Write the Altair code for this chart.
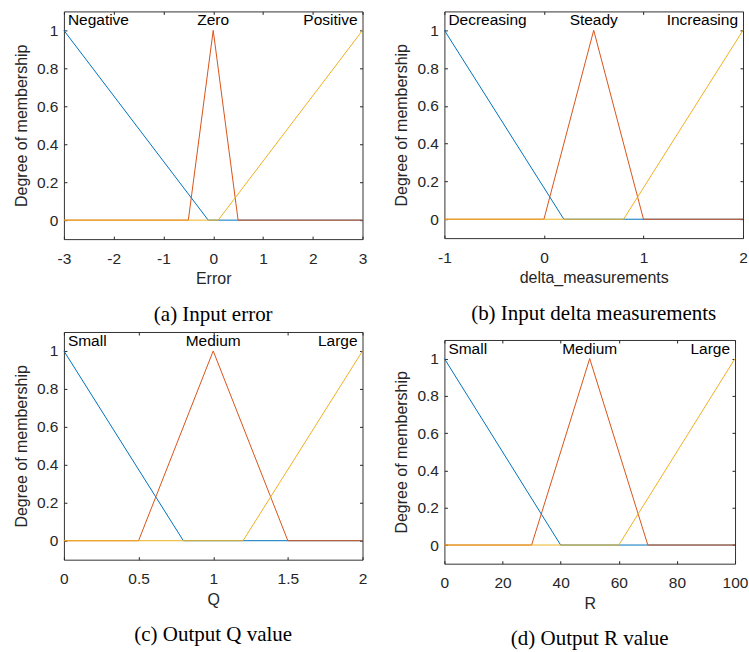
import altair as alt
import pandas as pd

# MATLAB default line colours
COLORS = ["#0072BD", "#D95319", "#EDB120"]
Y_TICKS = [0, 0.2, 0.4, 0.6, 0.8, 1]
Y_DOMAIN = [-0.1, 1.1]
Y_TITLE = "Degree of membership"

# (a) Input error
A_XLABEL = "Error"
A_CAPTION = "(a) Input error"
A_DOMAIN = [-3, 3]
A_TICKS = [-3, -2, -1, 0, 1, 2, 3]
A_NAMES = ["Negative", "Zero", "Positive"]
A_NAME_X = [-3, 0, 3]
A_MF_X = [[-3, -0.1, 3], [-3, -0.5, 0, 0.5, 3], [-3, 0.1, 3]]
A_MF_Y = [[1, 0, 0], [0, 0, 1, 0, 0], [0, 0, 1]]

# (b) Input delta measurements
B_XLABEL = "delta_measurements"
B_CAPTION = "(b) Input delta measurements"
B_DOMAIN = [-1, 2]
B_TICKS = [-1, 0, 1, 2]
B_NAMES = ["Decreasing", "Steady", "Increasing"]
B_NAME_X = [-1, 0.5, 2]
B_MF_X = [[-1, 0.2, 2], [-1, 0, 0.5, 1, 2], [-1, 0.8, 2]]
B_MF_Y = [[1, 0, 0], [0, 0, 1, 0, 0], [0, 0, 1]]

# (c) Output Q value
C_XLABEL = "Q"
C_CAPTION = "(c) Output Q value"
C_DOMAIN = [0, 2]
C_TICKS = [0, 0.5, 1, 1.5, 2]
C_NAMES = ["Small", "Medium", "Large"]
C_NAME_X = [0, 1, 2]
C_MF_X = [[0, 0.8, 2], [0, 0.5, 1, 1.5, 2], [0, 1.2, 2]]
C_MF_Y = [[1, 0, 0], [0, 0, 1, 0, 0], [0, 0, 1]]

# (d) Output R value
D_XLABEL = "R"
D_CAPTION = "(d) Output R value"
D_DOMAIN = [0, 100]
D_TICKS = [0, 20, 40, 60, 80, 100]
D_NAMES = ["Small", "Medium", "Large"]
D_NAME_X = [0, 50, 100]
D_MF_X = [[0, 40, 100], [0, 30, 50, 70, 100], [0, 60, 100]]
D_MF_Y = [[1, 0, 0], [0, 0, 1, 0, 0], [0, 0, 1]]

SANS = "Liberation Sans"
SERIF = "Liberation Serif"
INK = "#262626"

axis_style = dict(
    labelFont=SANS, labelFontSize=15.5, labelColor=INK, labelFlush=False,
    titleFont=SANS, titleFontSize=16, titleFontWeight="normal", titleColor=INK,
    tickColor=INK, tickWidth=1, tickSize=3, offset=-3, domain=False, grid=False,
    labelExpr="'' + datum.value",
)


def panel(xlabel, caption, domain, ticks, names, name_x, mfx, mfy, w, h):
    xs = alt.Scale(domain=domain, nice=False, zero=False)
    ys = alt.Scale(domain=Y_DOMAIN, nice=False, zero=False)
    layers = []
    for i in range(3):
        df = pd.DataFrame({"x": mfx[i], "y": mfy[i], "k": list(range(len(mfx[i])))})
        if i == 0:
            xa = alt.Axis(values=ticks, orient="bottom", title=xlabel,
                          labelPadding=12, titlePadding=4, **axis_style)
            ya = alt.Axis(values=Y_TICKS, orient="left", title=Y_TITLE,
                          labelPadding=6, titlePadding=7, **axis_style)
        else:
            xa = None
            ya = None
        layers.append(
            alt.Chart(df).mark_line(color=COLORS[i], strokeWidth=1).encode(
                x=alt.X("x:Q", scale=xs, axis=xa),
                y=alt.Y("y:Q", scale=ys, axis=ya),
                order="k:Q",
            )
        )
    aligns = ["left", "center", "right"]
    dxs = [4, 0, -5]
    for i in range(3):
        df = pd.DataFrame({"x": [name_x[i]], "y": [1], "t": [names[i]]})
        if i == 1:
            xa = alt.Axis(values=ticks, orient="top", labels=False, title=None,
                          **axis_style)
            ya = alt.Axis(values=Y_TICKS, orient="right", labels=False, title=None,
                          **axis_style)
        else:
            xa = None
            ya = None
        layers.append(
            alt.Chart(df).mark_text(
                align=aligns[i], baseline="alphabetic", dx=dxs[i], dy=-5,
                font=SANS, fontSize=15.5, color="black",
            ).encode(
                x=alt.X("x:Q", scale=xs, axis=xa),
                y=alt.Y("y:Q", scale=ys, axis=ya),
                text="t:N",
            )
        )
    return alt.layer(*layers).resolve_axis(x="independent", y="independent").properties(
        width=w, height=h,
        title=alt.TitleParams(caption, orient="bottom", anchor="middle", font=SERIF,
                              fontSize=21, fontWeight="normal", color="black", offset=17),
    )


pa = panel(A_XLABEL, A_CAPTION, A_DOMAIN, A_TICKS, A_NAMES, A_NAME_X, A_MF_X, A_MF_Y, 299, 228)
pb = panel(B_XLABEL, B_CAPTION, B_DOMAIN, B_TICKS, B_NAMES, B_NAME_X, B_MF_X, B_MF_Y, 299, 227)
pc = panel(C_XLABEL, C_CAPTION, C_DOMAIN, C_TICKS, C_NAMES, C_NAME_X, C_MF_X, C_MF_Y, 299, 228)
pd_ = panel(D_XLABEL, D_CAPTION, D_DOMAIN, D_TICKS, D_NAMES, D_NAME_X, D_MF_X, D_MF_Y, 291, 224)

col1 = alt.vconcat(pa, pc, spacing=93, bounds="flush")
col2 = alt.vconcat(pb, pd_, spacing=102, bounds="flush")
chart = alt.hconcat(col1, col2, spacing=25).properties(
    padding={"left": 12, "top": 10, "right": 0, "bottom": 0},
    background="white",
).configure_view(stroke="#333333", strokeWidth=1)

chart.save("out.html", embed_options={"renderer": "svg", "actions": False})
